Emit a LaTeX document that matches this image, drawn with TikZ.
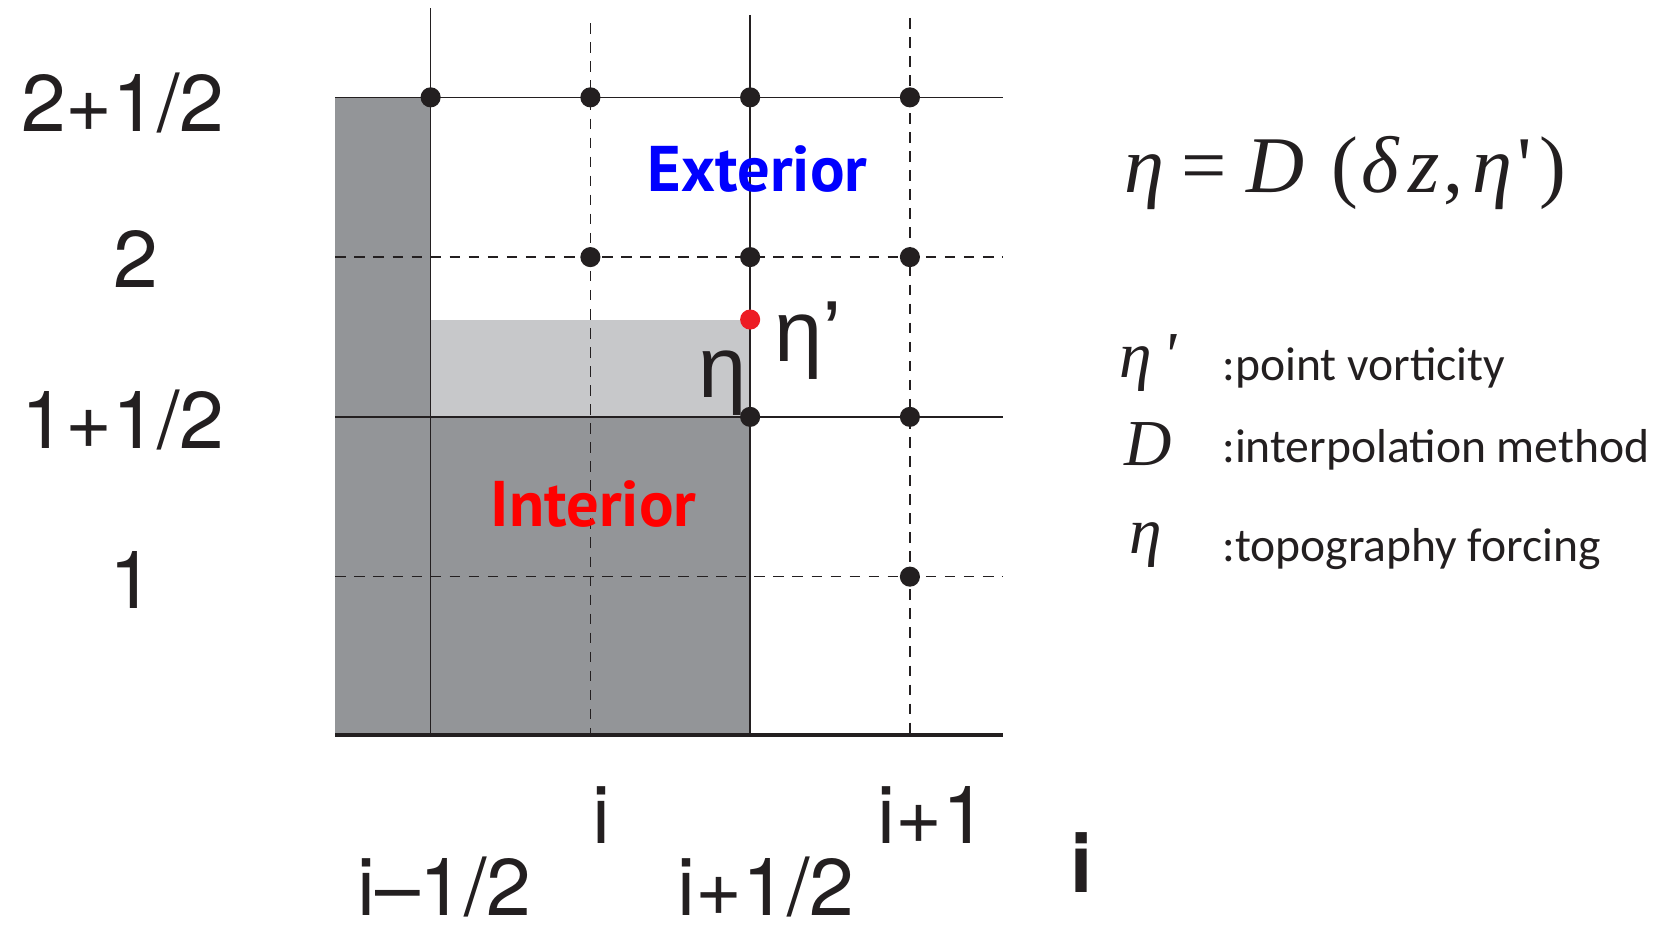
\documentclass[tikz,border=0pt]{standalone}
\usepackage{fontspec}
\setmainfont{TeX Gyre Heros}
\newfontfamily\labfont{PT Sans}
\newfontfamily\calfont{Carlito}
\newfontfamily\serfont{Liberation Serif}
\newfontfamily\etafont{Liberation Sans}
\definecolor{darkfill}{HTML}{939598}
\definecolor{lightfill}{HTML}{C7C8CA}
\definecolor{extblue}{HTML}{0000FF}
\definecolor{intred}{HTML}{FF0000}
\definecolor{dotred}{HTML}{ED1C24}
\definecolor{ink}{HTML}{231F20}
\begin{document}
\begin{tikzpicture}[x=1pt,y=-1pt,
  gsolid/.style={draw=ink,line width=1.4pt},
  gdash/.style={draw=ink,line width=1.4pt,dash pattern=on 10pt off 8pt},
  gbase/.style={draw=ink,line width=3.5pt},
  gdot/.style={circle,fill=ink,inner sep=0pt,minimum size=19pt},
  rdot/.style={circle,fill=dotred,inner sep=0pt,minimum size=19pt},
  axlab/.style={font=\fontsize{76}{76}\selectfont,text=ink,inner sep=0pt},
  region/.style={font=\labfont\bfseries\fontsize{61}{61}\selectfont,inner sep=0pt},
  etalab/.style={font=\etafont\fontsize{82}{82}\selectfont,text=ink,inner sep=0pt},
  legtext/.style={font=\calfont\fontsize{45}{45}\selectfont,text=ink,inner sep=0pt,anchor=base west},
  legsym/.style={font=\serfont\itshape\fontsize{62}{62}\selectfont,text=ink,inner sep=0pt}
]
\useasboundingbox (0,0) rectangle (1568,879);
% fills
\fill[darkfill] (317,92) rectangle (407,695);
\fill[darkfill] (407,394) rectangle (709,695);
\fill[lightfill] (407,302) rectangle (709,394);
% grid coordinates
\coordinate (vA1) at (407,8);   \coordinate (vA2) at (407,695);
\coordinate (vB1) at (558,22);  \coordinate (vB2) at (558,695);
\coordinate (vC1) at (709,14);  \coordinate (vC2) at (709,695);
\coordinate (vD1) at (860,17);  \coordinate (vD2) at (860,695);
\coordinate (h1L) at (317,92);  \coordinate (h1R) at (948,92);
\coordinate (h2L) at (317,243); \coordinate (h2R) at (948,243);
\coordinate (h3L) at (317,394); \coordinate (h3R) at (948,394);
\coordinate (h4L) at (317,545); \coordinate (h4R) at (948,545);
\coordinate (h5L) at (317,695); \coordinate (h5R) at (948,695);
\draw[gsolid] (vA1) -- (vA2);
\draw[gdash]  (vB1) -- (vB2);
\draw[gsolid] (vC1) -- (vC2);
\draw[gdash]  (vD1) -- (vD2);
\draw[gsolid] (h1L) -- (h1R);
\draw[gdash]  (h2L) -- (h2R);
\draw[gsolid] (h3L) -- (h3R);
\draw[gdash]  (h4L) -- (h4R);
\draw[gbase]  (h5L) -- (h5R);
% dots
\node[gdot] (d11) at (407,92) {};
\node[gdot] (d12) at (558,92) {};
\node[gdot] (d13) at (709,92) {};
\node[gdot] (d14) at (860,92) {};
\node[gdot] (d22) at (558,243) {};
\node[gdot] (d23) at (709,243) {};
\node[gdot] (d24) at (860,243) {};
\node[gdot] (d33) at (709,394) {};
\node[gdot] (d34) at (860,394) {};
\node[gdot] (d44) at (860,545) {};
\node[rdot] (red) at (709,302) {};
% region labels
\node[region,text=extblue] (ext) at (716,160) {Exterior};
\node[region,text=intred] (int) at (561,476) {Interior};
% eta labels
\node[etalab] (etap) at (764,322) {η’};
\node[etalab] (eta) at (683,362) {η};
% axis labels
\node[axlab] (y25) at (116,97) {2+1/2};
\node[axlab] (y2) at (128,245) {2};
\node[axlab] (y15) at (116,397) {1+1/2};
\node[axlab] (y1) at (125,548) {1};
\node[axlab] (xi) at (568,770) {i};
\node[axlab] (xi1) at (881,770) {i+1};
\node[axlab] (xim) at (420,838) {i–1/2};
\node[axlab] (xip) at (724,838) {i+1/2};
\node[axlab,font=\bfseries\fontsize{76}{76}\selectfont] (xbold) at (1022,815) {i};
% formula
\node[font=\serfont\fontsize{76}{76}\selectfont,text=ink,inner sep=0pt,anchor=base west] (formula) at (1063,182)
  {\textit{η}\hspace{16pt}=\hspace{18pt}\textit{D}\hspace{26pt}(\hspace{3pt}\textit{δ}\hspace{8pt}\textit{z}\hspace{3pt},\hspace{9pt}\textit{η}\hspace{5pt}'\hspace{7pt})};
% legend
\node[legsym] (l1s) at (1085,343) {η\,'};
\node[legtext] (l1t) at (1155,360) {:point vorticity};
\node[legsym] (l2s) at (1085,420) {D};
\node[legtext] (l2t) at (1155,437) {:interpolation method};
\node[legsym] (l3s) at (1083,515) {η};
\node[legtext] (l3t) at (1155,531) {:topography forcing};
\end{tikzpicture}
\end{document}
